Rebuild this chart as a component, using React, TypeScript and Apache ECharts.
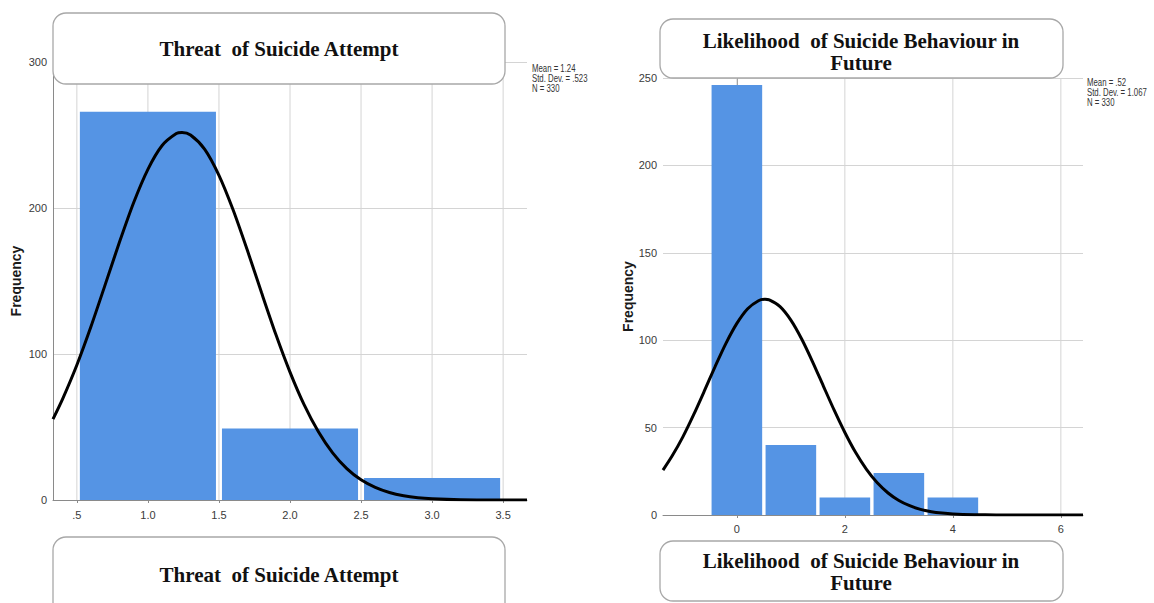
import React, { useEffect, useRef } from "react";
import * as echarts from "echarts";

// ---------- data ----------
const leftBinStarts = [0.5, 1.5, 2.5];
const leftBinEnds = [1.5, 2.5, 3.5];
const leftCounts = [266, 49, 15];
const leftCurveX = [0.332, 0.4, 0.5, 0.6, 0.7, 0.8, 0.9, 1.0, 1.1, 1.2, 1.24, 1.3, 1.4, 1.5, 1.6, 1.7, 1.8, 1.9, 2.0, 2.1, 2.2, 2.3, 2.4, 2.5, 2.6, 2.7, 2.8, 2.9, 3.0, 3.2, 3.4, 3.668];
const leftCurveY = [55.4, 69.3, 92.5, 119.0, 147.7, 176.7, 203.8, 226.5, 242.8, 251.0, 251.7, 250.0, 240.2, 222.4, 198.6, 171.0, 141.9, 113.5, 87.6, 65.1, 46.7, 32.3, 21.5, 13.8, 8.6, 5.1, 2.9, 1.6, 0.9, 0.2, 0.05, 0];
const leftXTicks = [0.5, 1.0, 1.5, 2.0, 2.5, 3.0, 3.5];
const leftXTickLabels = [".5", "1.0", "1.5", "2.0", "2.5", "3.0", "3.5"];
const leftTitle = "Threat  of Suicide Attempt";
const leftStats = ["Mean = 1.24", "Std. Dev. = .523", "N = 330"];

const rightBinStarts = [-0.5, 0.5, 1.5, 2.5, 3.5];
const rightBinEnds = [0.5, 1.5, 2.5, 3.5, 4.5];
const rightCounts = [246, 40, 10, 24, 10];
const rightCurveX = [-1.368, -1.2, -1.0, -0.8, -0.6, -0.4, -0.2, 0, 0.2, 0.4, 0.52, 0.6, 0.8, 1.0, 1.2, 1.4, 1.6, 1.8, 2.0, 2.2, 2.4, 2.6, 2.8, 3.0, 3.2, 3.4, 3.6, 3.8, 4.0, 4.4, 4.8, 5.2, 6.41];
const rightCurveY = [25.7, 33.7, 44.7, 57.4, 71.1, 85.1, 98.3, 109.6, 118.0, 122.6, 123.4, 123.1, 119.2, 111.5, 100.7, 87.8, 73.9, 60.1, 47.2, 35.7, 26.1, 18.4, 12.6, 8.3, 5.3, 3.2, 1.9, 1.1, 0.6, 0.17, 0.03, 0, 0];
const rightXTicks = [0, 2, 4, 6];
const rightXTickLabels = ["0", "2", "4", "6"];
const rightTitle = "Likelihood  of Suicide Behaviour in\nFuture";
const rightStats = ["Mean = .52", "Std. Dev. = 1.067", "N = 330"];

const yAxisTitle = "Frequency";

// ---------- styles ----------
const BAR_COLOR = "#5594e4";
const GRID_COLOR = "#d4d4d4";
const AXIS_COLOR = "#8a8a8a";
const LABEL_FONT = "'Liberation Sans Narrow', 'Arial Narrow', 'Liberation Sans', Arial, sans-serif";
const TITLE_FONT = "bold 21px 'Liberation Serif', 'Times New Roman', serif";

function barSeries(idx: number, starts: number[], ends: number[], counts: number[], inset: number) {
  return {
    type: "custom",
    xAxisIndex: idx,
    yAxisIndex: idx,
    z: 3,
    silent: true,
    encode: { x: [0, 1], y: 2 },
    data: starts.map((s, i) => [s, ends[i], counts[i]]),
    renderItem: (_p: any, api: any) => {
      const p0 = api.coord([api.value(0), api.value(2)]);
      const p1 = api.coord([api.value(1), 0]);
      return {
        type: "rect",
        shape: { x: p0[0] + inset, y: p0[1], width: p1[0] - p0[0] - 2 * inset, height: p1[1] - p0[1] },
        style: { fill: BAR_COLOR },
      };
    },
  };
}

function vGridSeries(idx: number, ticks: number[], yMax: number) {
  return {
    type: "custom",
    xAxisIndex: idx,
    yAxisIndex: idx,
    z: 1,
    silent: true,
    encode: { x: 0, y: 1 },
    data: ticks.map((t) => [t, 0]),
    renderItem: (_p: any, api: any) => {
      const a = api.coord([api.value(0), 0]);
      const b = api.coord([api.value(0), yMax]);
      return {
        type: "line",
        shape: { x1: a[0], y1: a[1], x2: b[0], y2: b[1] },
        style: { stroke: GRID_COLOR, lineWidth: 1 },
      };
    },
  };
}

function curveSeries(idx: number, xs: number[], ys: number[]) {
  return {
    type: "line",
    xAxisIndex: idx,
    yAxisIndex: idx,
    z: 5,
    silent: true,
    smooth: 0.25,
    showSymbol: false,
    symbol: "none",
    lineStyle: { color: "#000", width: 3 },
    data: xs.map((x, i) => [x, ys[i]]),
  };
}

function xAxis(idx: number, min: number, max: number, ticks: number[], labels: string[], margin: number) {
  return {
    type: "value",
    gridIndex: idx,
    min,
    max,
    axisLine: { show: true, onZero: false, lineStyle: { color: AXIS_COLOR, width: 1 } },
    axisTick: { show: true, customValues: ticks, length: 3, lineStyle: { color: AXIS_COLOR } },
    axisLabel: {
      customValues: ticks,
      margin,
      color: "#3a3a3a",
      fontSize: 11,
      fontFamily: LABEL_FONT,
      formatter: (v: number) => {
        const i = ticks.findIndex((t) => Math.abs(t - v) < 1e-6);
        return i >= 0 ? labels[i] : "";
      },
    },
    splitLine: { show: false },
  };
}

function yAxis(idx: number, max: number, interval: number, nameGap: number) {
  return {
    type: "value",
    gridIndex: idx,
    min: 0,
    max,
    interval,
    name: yAxisTitle,
    nameLocation: "middle",
    nameGap,
    nameTextStyle: { fontWeight: "bold", fontSize: 14, fontFamily: "'Liberation Sans', Arial, sans-serif", color: "#1a1a1a" },
    axisLine: { show: true, lineStyle: { color: AXIS_COLOR, width: 1 } },
    axisTick: { show: false },
    axisLabel: { margin: 6, color: "#3a3a3a", fontSize: 11, fontFamily: LABEL_FONT },
    splitLine: { show: true, lineStyle: { color: GRID_COLOR, width: 1 } },
  };
}

function box(x: number, y: number, w: number, h: number) {
  return {
    type: "rect",
    z: 100,
    shape: { x, y, width: w, height: h, r: 13 },
    style: { fill: "#ffffff", stroke: "#a8a8a8", lineWidth: 1.3 },
  };
}

function boxText(text: string, x: number, y: number) {
  return {
    type: "text",
    z: 101,
    style: {
      text,
      x,
      y,
      align: "center",
      verticalAlign: "middle",
      font: TITLE_FONT,
      lineHeight: 22,
      fill: "#111",
    },
  };
}

function statsText(lines: string[], x: number, y: number) {
  return {
    type: "text",
    z: 101,
    x,
    y,
    scaleX: 0.78,
    style: {
      text: lines.join("\n"),
      x: 0,
      y: 0,
      align: "left",
      verticalAlign: "top",
      font: "10px " + LABEL_FONT,
      lineHeight: 10,
      fill: "#333",
    },
  };
}

export default function App() {
  const ref = useRef<HTMLDivElement>(null);
  useEffect(() => {
    document.body.style.margin = "0";
    if (!ref.current) return;
    const chart = echarts.init(ref.current, null, { renderer: "svg" });
    chart.setOption({
      animation: false,
      backgroundColor: "#ffffff",
      grid: [
        { left: 53, top: 62, width: 474, height: 438 },
        { left: 663, top: 78, width: 420, height: 437 },
      ],
      xAxis: [
        xAxis(0, 0.332, 3.668, leftXTicks, leftXTickLabels, 9),
        xAxis(1, -1.368, 6.41, rightXTicks, rightXTickLabels, 8),
      ],
      yAxis: [yAxis(0, 300, 100, 30), yAxis(1, 250, 50, 26)],
      series: [
        vGridSeries(0, leftXTicks, 300),
        barSeries(0, leftBinStarts, leftBinEnds, leftCounts, 3),
        curveSeries(0, leftCurveX, leftCurveY),
        vGridSeries(1, rightXTicks, 250),
        barSeries(1, rightBinStarts, rightBinEnds, rightCounts, 1.7),
        curveSeries(1, rightCurveX, rightCurveY),
      ],
      graphic: [
        box(53, 13, 452, 71),
        boxText(leftTitle, 279, 49),
        box(53, 537, 452, 80),
        boxText(leftTitle, 279, 575),
        box(660, 19, 403, 59),
        boxText(rightTitle, 861, 52),
        box(660, 541, 403, 60),
        boxText(rightTitle, 861, 572),
        statsText(leftStats, 532, 64),
        statsText(rightStats, 1087, 78),
      ],
    });
    return () => chart.dispose();
  }, []);
  return <div ref={ref} style={{ position: "absolute", left: 0, top: 0, width: 1154, height: 603 }} />;
}
